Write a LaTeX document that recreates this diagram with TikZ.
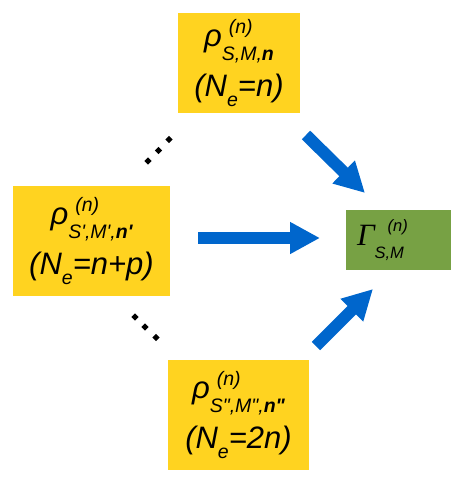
\documentclass[tikz,border=0pt]{standalone}
\usepackage{fontspec}
\setmainfont{Liberation Sans}[Ligatures=TeXOff]
\newfontfamily\gfont{Liberation Serif}
\usetikzlibrary{arrows.meta}
\definecolor{boxyellow}{HTML}{FFD320}
\definecolor{boxgreen}{HTML}{77A144}
\definecolor{arrowblue}{HTML}{0066CC}
\newcommand\subfnt{\fontsize{19.5}{19.5}\selectfont}
\newcommand\gsubfnt{\fontsize{16.5}{16.5}\selectfont}
\newcommand\SupSub[3][7pt]{\rlap{\hspace{#1}\raisebox{13pt}{\subfnt #2}}\raisebox{-14pt}{\subfnt #3}}
\newcommand\GSupSub[3][13pt]{\rlap{\hspace{#1}\raisebox{14pt}{\normalfont\gsubfnt\itshape #2}}\raisebox{-13pt}{\normalfont\gsubfnt\itshape #3}}
\newcommand\Esub{\raisebox{-10pt}{\subfnt e}}
\newcommand\Q{'}
\newcommand\QQ{"}
\tikzset{
  ybox/.style={fill=boxyellow, inner sep=0pt, align=center,
    font={\fontsize{31}{50}\selectfont\itshape}},
  gbox/.style={fill=boxgreen, inner sep=0pt, minimum width=105pt, minimum height=60pt},
  bigarrow/.style={draw=arrowblue, line width=12pt,
    -{Triangle[length=30pt,width=30pt,fill=arrowblue]}},
  dotmark/.style={fill=black, inner sep=0pt, minimum size=5pt, rotate=45}
}
\begin{document}
\begin{tikzpicture}[x=1pt,y=-1pt]
\useasboundingbox (0,0) rectangle (463,485);
% boxes
\node[ybox, minimum width=122pt, minimum height=100pt] (top) at (239,63)
  {ρ\SupSub{(n)}{S,M,{\bfseries n}}\\(N\Esub=n)};
\node[ybox, minimum width=157pt, minimum height=110pt] (left) at (91.5,241)
  {ρ\SupSub{(n)}{S\Q,M\Q,{\bfseries n\Q}}\\(N\Esub=n+p)};
\node[ybox, minimum width=141pt, minimum height=110pt] (bot) at (238.5,415)
  {ρ\SupSub{(n)}{S\QQ,M\QQ,{\bfseries n\QQ}}\\(N\Esub=2n)};
\node[gbox] (gam) at (398.5,240)
  {\fontsize{31}{31}\selectfont\gfont\itshape Γ\GSupSub{(n)}{S,M}\kern 36pt};
% arrows
\coordinate (a1s) at (306,135);
\coordinate (a1e) at (365,193);
\coordinate (a2s) at (198,238);
\coordinate (a2e) at (320,238);
\coordinate (a3s) at (316,346);
\coordinate (a3e) at (373,289);
\draw[bigarrow] (a1s) -- (a1e);
\draw[bigarrow] (a2s) -- (a2e);
\draw[bigarrow] (a3s) -- (a3e);
% dots
\node[dotmark] (d1) at (148,161) {};
\node[dotmark] (d2) at (158.5,150.5) {};
\node[dotmark] (d3) at (169,139.5) {};
\node[dotmark] (d4) at (135,317) {};
\node[dotmark] (d5) at (145,327) {};
\node[dotmark] (d6) at (156,337.5) {};
\end{tikzpicture}
\end{document}
